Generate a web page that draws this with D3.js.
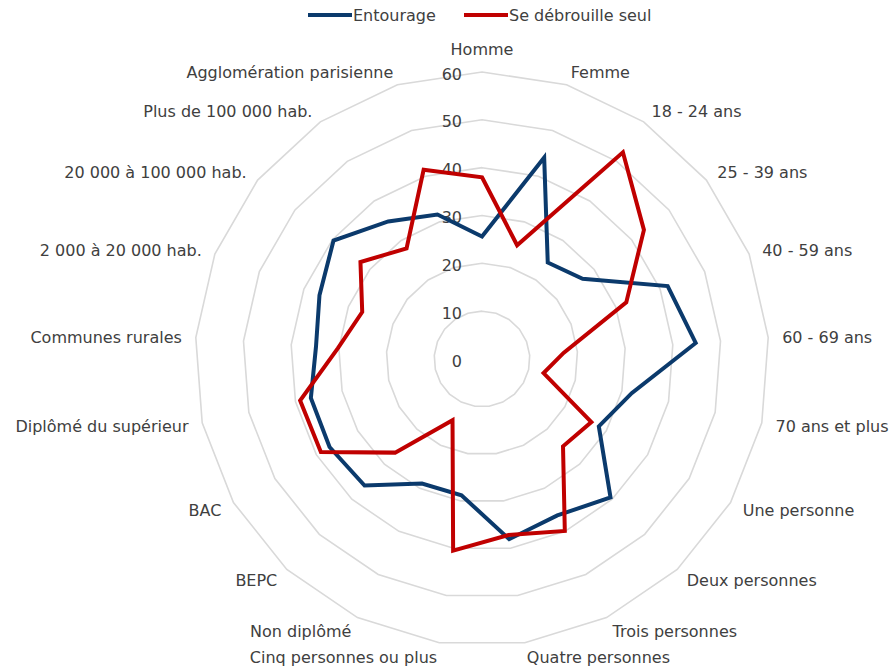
<!DOCTYPE html>
<html><head><meta charset="utf-8">
<script src="https://cdn.jsdelivr.net/npm/d3@7"></script>
<style>body{margin:0;background:#fff}svg{display:block}text{font-family:"DejaVu Sans",Verdana,sans-serif;font-size:16px;fill:#404040}</style>
</head><body>
<svg id="c" width="895" height="672"></svg>
<script>
const categories = ["Homme","Femme","18 - 24 ans","25 - 39 ans","40 - 59 ans","60 - 69 ans","70 ans et plus","Une personne","Deux personnes","Trois personnes","Quatre personnes","Cinq personnes ou plus","Non diplômé","BEPC","BAC","Diplômé du supérieur","Communes rurales","2 000 à 20 000 hab.","20 000 à 100 000 hab.","Plus de 100 000 hab.","Agglomération parisienne"];
const entourage = [25.6, 44.1, 24.4, 26.9, 41.7, 44.8, 32.1, 28.2, 39.5, 36.3, 38.1, 28.8, 28.9, 36.1, 36.8, 36.7, 34.8, 36.5, 39.7, 34.8, 31.6];
const seul = [38.0, 24.9, 52.3, 43.3, 32.4, 17.1, 13.2, 26.4, 24.9, 39.9, 37.2, 40.5, 14.2, 26.7, 38.9, 39.0, 30.2, 26.9, 32.5, 28.0, 41.4];
const ticks = [0, 10, 20, 30, 40, 50, 60];
const seriesNames = ["Entourage", "Se débrouille seul"];
const seriesColors = ["#0b3a6c", "#c00000"];

const svg = d3.select("#c");
const cx = 482, cy = 359;
const r = d3.scaleLinear().domain([0, 60]).range([0, 287]);
const n = categories.length;
const ang = d3.scaleLinear().domain([0, n]).range([0, 2 * Math.PI]);
const g = svg.append("g").attr("transform", `translate(${cx},${cy})`);

// grid rings
const ring = d3.lineRadial().angle((d, i) => ang(i)).radius(d => r(d)).curve(d3.curveLinearClosed);
ticks.filter(t => t > 0).forEach(t => {
  g.append("path").attr("d", ring(categories.map(() => t)))
    .attr("fill", "none").attr("stroke", "#d9d9d9").attr("stroke-width", 1.6);
});

// tick labels
ticks.forEach(t => {
  g.append("text").attr("x", -20).attr("y", -r(t) + 2)
    .attr("text-anchor", "end").attr("dominant-baseline", "central").text(t);
});

// series
const line = d3.lineRadial().angle((d, i) => ang(i)).radius(d => r(d)).curve(d3.curveLinearClosed);
[entourage, seul].forEach((s, k) => {
  g.append("path").attr("d", line(s)).attr("fill", "none")
    .attr("stroke", seriesColors[k]).attr("stroke-width", 4).attr("stroke-linejoin", "miter");
});

// category labels
const LR = 301;
categories.forEach((c, i) => {
  const a = ang(i);
  const sx = Math.sin(a), cy_ = -Math.cos(a);
  let x = LR * sx, y = LR * cy_;
  let anchor = sx > 0.05 ? "start" : (sx < -0.05 ? "end" : "middle");
  if (anchor === "middle") y += cy_ < 0 ? -10 : 10;
  g.append("text").attr("x", x).attr("y", y + 1)
    .attr("text-anchor", anchor).attr("dominant-baseline", "central").text(c);
});

// legend
const leg = [{x: 308, name: seriesNames[0], color: seriesColors[0]}, {x: 464, name: seriesNames[1], color: seriesColors[1]}];
leg.forEach(l => {
  svg.append("line").attr("x1", l.x).attr("x2", l.x + 44).attr("y1", 15).attr("y2", 15)
    .attr("stroke", l.color).attr("stroke-width", 4);
  svg.append("text").attr("x", l.x + 45).attr("y", 15).attr("dominant-baseline", "central").text(l.name);
});
</script>
</body></html>
